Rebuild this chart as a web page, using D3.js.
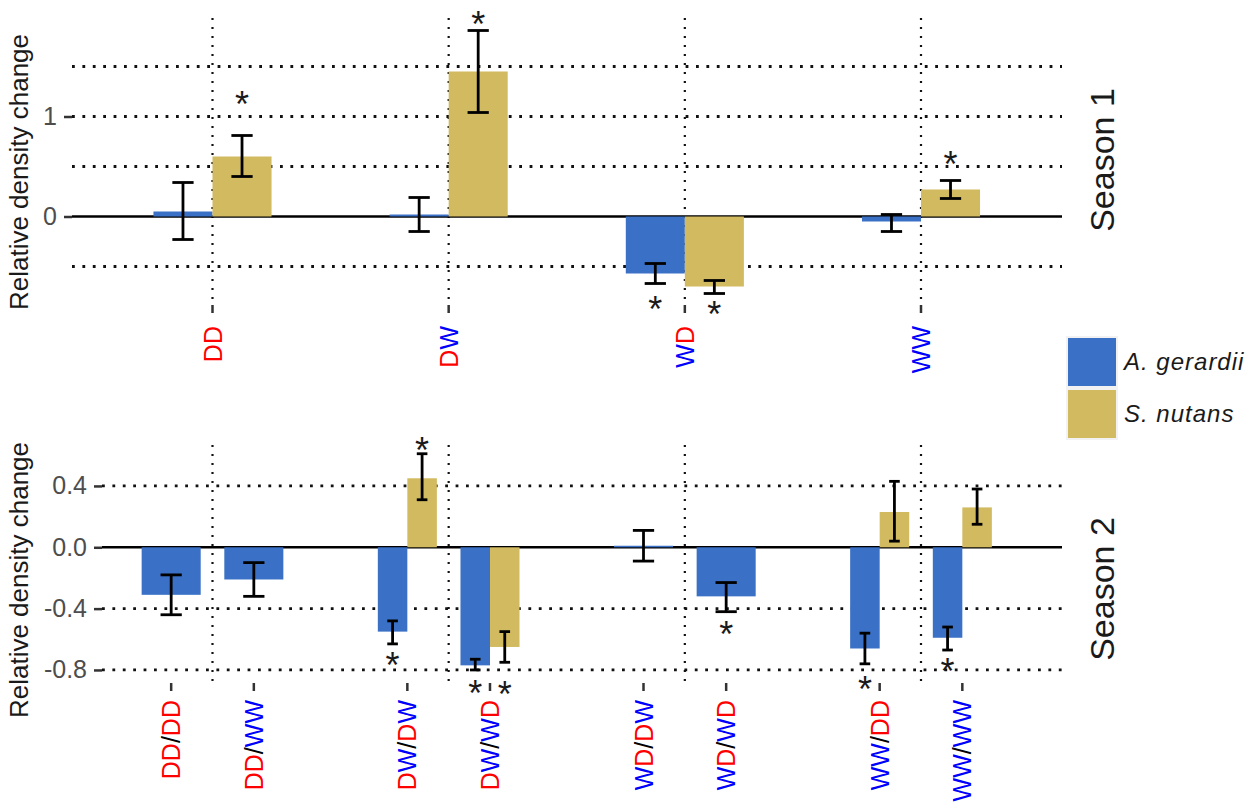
<!DOCTYPE html>
<html>
<head>
<meta charset="utf-8">
<script src="https://cdn.jsdelivr.net/npm/d3@7"></script>
<style>
  body { margin: 0; background: #fff; }
  text { font-family: 'Liberation Sans', Arial, sans-serif; }
</style>
</head>
<body>
<div id="app"></div>
<script>
// season 1 (one condition per category)
const s1Cats = ['DD', 'DW', 'WD', 'WW'];
const s1Ager = [0.05, 0.02, -0.57, -0.05];
const s1AgerLo = [-0.23, -0.15, -0.67, -0.15];
const s1AgerHi = [0.34, 0.19, -0.47, 0.02];
const s1AgerStar = [null, null, -0.85, null];
const s1Snut = [0.60, 1.45, -0.70, 0.27];
const s1SnutLo = [0.40, 1.04, -0.77, 0.18];
const s1SnutHi = [0.81, 1.86, -0.64, 0.36];
const s1SnutStar = [1.20, 2.0, -0.90, 0.60];
const s1Ticks = [0, 1];
const s1Grid = [-0.5, 0.5, 1, 1.5];

// season 2 (season1 / season2 conditions)
const s2Cats = ['DD/DD', 'DD/WW', 'DW/DW', 'DW/WD', 'WD/DW', 'WD/WD', 'WW/DD', 'WW/WW'];
const s2Ager = [-0.31, -0.21, -0.55, -0.77, 0.01, -0.32, -0.66, -0.59];
const s2AgerLo = [-0.44, -0.32, -0.63, -0.80, -0.09, -0.42, -0.76, -0.67];
const s2AgerHi = [-0.18, -0.10, -0.48, -0.73, 0.11, -0.23, -0.56, -0.52];
const s2AgerStar = [null, null, -0.72, -0.905, null, -0.52, -0.88, -0.76];
const s2Snut = [null, null, 0.45, -0.65, null, null, 0.23, 0.26];
const s2SnutLo = [null, null, 0.31, -0.75, null, null, 0.04, 0.15];
const s2SnutHi = [null, null, 0.61, -0.55, null, null, 0.43, 0.38];
const s2SnutStar = [null, null, 0.68, -0.91, null, null, null, null];
const s2Ticks = [-0.8, -0.4, 0, 0.4];

const species = ['A. gerardii', 'S. nutans'];
const colors = ['#3a71c6', '#d2ba60'];
const letterColor = { D: '#ff0000', W: '#0000ff', '/': '#000000' };

const width = 1257;
const height = 808;
const barW = 0.25;

const svg = d3.select('#app').append('svg')
  .attr('width', width)
  .attr('height', height);

svg.append('rect').attr('width', width).attr('height', height).attr('fill', '#fff');

// shared x: the four season-1 conditions sit at 1..4
const x = d3.scaleLinear().domain([1, 4]).range([212.5, 921]);

const drawPanel = (p) => {
  const g = svg.append('g');
  const y = p.y;
  const [top, bottom] = [y.range()[1], y.range()[0]];

  // vertical dotted separators
  g.selectAll('.vsep')
    .data([1, 2, 3, 4])
    .enter().append('line')
    .attr('x1', d => x(d)).attr('x2', d => x(d))
    .attr('y1', top).attr('y2', bottom)
    .attr('stroke', '#111')
    .attr('stroke-width', 2.2)
    .attr('stroke-dasharray', '2 7');

  // horizontal dotted grid
  g.selectAll('.hgrid')
    .data(p.grid)
    .enter().append('line')
    .attr('x1', p.left).attr('x2', p.right)
    .attr('y1', d => y(d)).attr('y2', d => y(d))
    .attr('stroke', '#111')
    .attr('stroke-width', 2.8)
    .attr('stroke-dasharray', '2.8 7.6');

  // zero line
  g.append('line')
    .attr('x1', p.left).attr('x2', p.right)
    .attr('y1', y(0)).attr('y2', y(0))
    .attr('stroke', '#000')
    .attr('stroke-width', 2.5);

  // bars
  g.selectAll('.bar')
    .data(p.bars)
    .enter().append('rect')
    .attr('x', d => x(d.x0))
    .attr('width', d => x(d.x1) - x(d.x0))
    .attr('y', d => y(Math.max(0, d.v)))
    .attr('height', d => Math.abs(y(d.v) - y(0)))
    .attr('fill', d => colors[d.s]);

  // error bars
  const eb = g.selectAll('.err')
    .data(p.bars)
    .enter().append('g')
    .attr('stroke', '#000')
    .attr('stroke-width', 2.8)
    .attr('fill', 'none');
  eb.append('line')
    .attr('x1', d => x((d.x0 + d.x1) / 2)).attr('x2', d => x((d.x0 + d.x1) / 2))
    .attr('y1', d => y(d.lo)).attr('y2', d => y(d.hi));
  ['lo', 'hi'].forEach(k => {
    eb.append('line')
      .attr('x1', d => x((d.x0 + d.x1) / 2) - (x(d.x1) - x(d.x0)) * 0.18)
      .attr('x2', d => x((d.x0 + d.x1) / 2) + (x(d.x1) - x(d.x0)) * 0.18)
      .attr('y1', d => y(d[k])).attr('y2', d => y(d[k]));
  });

  // significance stars
  g.selectAll('.star')
    .data(p.bars.filter(d => d.star != null))
    .enter().append('text')
    .attr('x', d => x((d.x0 + d.x1) / 2))
    .attr('y', d => y(d.star) + 20)
    .attr('text-anchor', 'middle')
    .attr('font-size', 36)
    .attr('fill', '#1a1a1a')
    .text('*');

  // y axis
  const ya = g.append('g')
    .attr('transform', `translate(${p.left},0)`)
    .call(d3.axisLeft(y).tickValues(p.ticks).tickSize(8).tickPadding(7).tickFormat(p.fmt));
  ya.select('.domain').remove();
  ya.selectAll('.tick line').attr('stroke', '#333').attr('stroke-width', 2.5);
  ya.selectAll('.tick text')
    .attr('font-size', 25)
    .attr('font-family', "'Liberation Sans', Arial, sans-serif")
    .attr('fill', '#4d4d4d');

  // x ticks + coloured rotated labels
  const xa = g.append('g').attr('transform', `translate(0,${bottom + 2})`);
  xa.selectAll('line')
    .data(p.cats)
    .enter().append('line')
    .attr('x1', d => x(d.x)).attr('x2', d => x(d.x))
    .attr('y1', 0).attr('y2', 8)
    .attr('stroke', '#333')
    .attr('stroke-width', 2.5);
  const lbl = xa.selectAll('text')
    .data(p.cats)
    .enter().append('text')
    .attr('transform', d => `translate(${x(d.x)},${p.labelTop - bottom - 2}) rotate(-90)`)
    .attr('text-anchor', 'end')
    .attr('dy', '0.36em')
    .attr('font-size', 25);
  lbl.selectAll('tspan')
    .data(d => d.name.split(''))
    .enter().append('tspan')
    .attr('fill', c => letterColor[c])
    .text(c => c);

  // axis title
  g.append('text')
    .attr('transform', `translate(28,${p.titleY}) rotate(-90)`)
    .attr('text-anchor', 'middle')
    .attr('font-size', 26)
    .attr('fill', '#1a1a1a')
    .text('Relative density change');

  // season strip label
  g.append('text')
    .attr('transform', `translate(1102,${p.seasonY}) rotate(-90)`)
    .attr('text-anchor', 'middle')
    .attr('dy', '0.36em')
    .attr('font-size', 34)
    .attr('fill', '#1a1a1a')
    .text(p.season);
};

// season 1 bars: blue left of the category, gold right
const s1Bars = [];
s1Cats.forEach((c, i) => {
  const cx = i + 1;
  s1Bars.push({ s: 0, x0: cx - barW, x1: cx, v: s1Ager[i], lo: s1AgerLo[i], hi: s1AgerHi[i], star: s1AgerStar[i] });
  s1Bars.push({ s: 1, x0: cx, x1: cx + barW, v: s1Snut[i], lo: s1SnutLo[i], hi: s1SnutHi[i], star: s1SnutStar[i] });
});

// season 2: each season-1 condition splits into two, either side of it
const s2X = s2Cats.map((c, i) => Math.floor(i / 2) + 1 + (i % 2 ? 0.175 : -0.175));
const s2Bars = [];
s2Cats.forEach((c, i) => {
  const cx = s2X[i];
  const both = s2Snut[i] != null;
  const half = barW / 2;
  s2Bars.push({ s: 0, x0: cx - half, x1: both ? cx : cx + half, v: s2Ager[i], lo: s2AgerLo[i], hi: s2AgerHi[i], star: s2AgerStar[i] });
  if (both) {
    s2Bars.push({ s: 1, x0: cx, x1: cx + half, v: s2Snut[i], lo: s2SnutLo[i], hi: s2SnutHi[i], star: s2SnutStar[i] });
  }
});

drawPanel({
  y: d3.scaleLinear().domain([-0.865, 1.985]).range([303, 18]),
  left: 72, right: 1062,
  grid: s1Grid, ticks: s1Ticks, fmt: d3.format('d'),
  bars: s1Bars,
  cats: s1Cats.map((name, i) => ({ name, x: i + 1 })),
  labelTop: 326, titleY: 172, seasonY: 160, season: 'Season 1'
});

drawPanel({
  y: d3.scaleLinear().domain([-0.872, 0.667]).range([681, 445]),
  left: 102, right: 1062,
  grid: s2Ticks.filter(d => d !== 0), ticks: s2Ticks, fmt: d => d3.format('.1f')(d).replace('−', '-'),
  bars: s2Bars,
  cats: s2Cats.map((name, i) => ({ name, x: s2X[i] })),
  labelTop: 700, titleY: 580, seasonY: 589, season: 'Season 2'
});

// legend
const legend = svg.append('g');
legend.append('rect')
  .attr('x', 1066).attr('y', 336).attr('width', 52).attr('height', 104)
  .attr('fill', '#f2f2f2');
legend.selectAll('.key')
  .data(species)
  .enter().append('rect')
  .attr('x', 1068).attr('y', (d, i) => 338 + i * 52)
  .attr('width', 48).attr('height', 48)
  .attr('fill', (d, i) => colors[i]);
legend.selectAll('.lab')
  .data(species)
  .enter().append('text')
  .attr('x', 1124).attr('y', (d, i) => 370 + i * 52)
  .attr('font-size', 24)
  .attr('letter-spacing', 1)
  .attr('font-style', 'italic')
  .attr('fill', '#1a1a1a')
  .text(d => d);
</script>
</body>
</html>
